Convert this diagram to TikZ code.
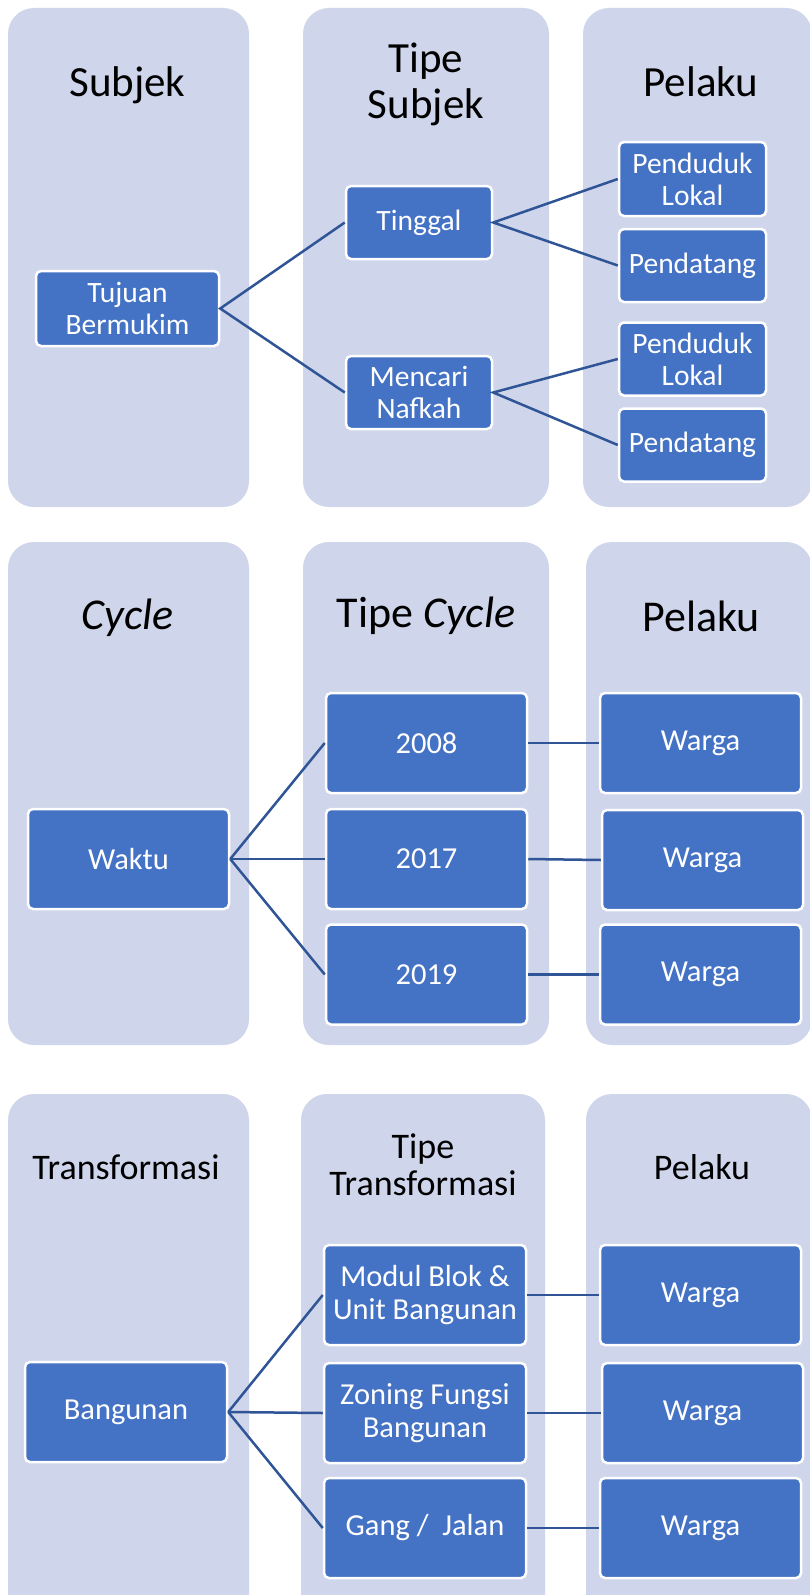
\documentclass[tikz,border=0pt]{standalone}
\usepackage{fontspec}
\setmainfont{Carlito}
\definecolor{colbg}{HTML}{CFD5EA}
\definecolor{nodeblue}{HTML}{4472C4}
\definecolor{linkblue}{HTML}{2F5597}
\begin{document}
\begin{tikzpicture}[x=1pt,y=-1pt,
  colbox/.style={fill=colbg,rounded corners=26pt},
  hdr/.style={align=center,inner sep=0pt,text=black},
  hdrA/.style={hdr,font=\fontsize{43}{46}\selectfont},
  hdrB/.style={hdr,font=\fontsize{44}{47}\selectfont},
  hdrC/.style={hdr,font=\fontsize{36}{37}\selectfont},
  blk/.style={rectangle,rounded corners=5pt,fill=nodeblue,draw=white,line width=2.5pt,
    text=white,align=center,inner sep=0pt},
  blkA/.style={blk,font=\fontsize{29.5}{32}\selectfont,minimum height=73pt},
  blkB/.style={blk,font=\fontsize{30.5}{33}\selectfont,minimum width=201pt,minimum height=100pt},
  link/.style={draw=linkblue,line width=2.5pt}
]
\useasboundingbox (0,0) rectangle (809,1595);
\fill[white] (0,0) rectangle (809,1595);
% ---------- section 1 ----------
\fill[colbox] (8,8) rectangle (249,507);
\fill[colbox] (303,8) rectangle (549,507);
\fill[colbox] (583,8) rectangle (812,507);
\node[hdrA] (h11) at (127.5,85.5) {Subjek};
\node[hdrA] (h12) at (426,84) {Tipe\\Subjek};
\node[hdrA] (h13) at (701,81.5) {Pelaku};
\node[blkA,minimum width=183pt,minimum height=75pt] (tuj) at (127.5,308.5) {Tujuan\\Bermukim};
\node[blkA,minimum width=146pt] (ting) at (419,222.5) {Tinggal};
\node[blkA,minimum width=146pt] (menc) at (419,392.5) {Mencari\\Nafkah};
\node[blkA,minimum width=147pt,minimum height=74pt] (pl1) at (692.5,179) {Penduduk\\Lokal};
\node[blkA,minimum width=147pt] (pd1) at (692.5,265.5) {Pendatang};
\node[blkA,minimum width=147pt] (pl2) at (692.5,359) {Penduduk\\Lokal};
\node[blkA,minimum width=147pt] (pd2) at (692.5,445) {Pendatang};
\draw[link] (ting.west) -- (tuj.east) -- (menc.west);
\draw[link] (pl1.west) -- (ting.east) -- (pd1.west);
\draw[link] (pl2.west) -- (menc.east) -- (pd2.west);
% ---------- section 2 ----------
\fill[colbox] (8,542) rectangle (249,1045);
\fill[colbox] (303,542) rectangle (549,1045);
\fill[colbox] (586,542) rectangle (812,1045);
\node[hdrB] (h21) at (128,618) {\itshape Cycle};
\node[hdrB] (h22) at (426,616) {Tipe \textit{Cycle}};
\node[hdrB] (h23) at (701,616) {Pelaku};
\node[blkB] (wak) at (128.5,859) {Waktu};
\node[blkB] (y08) at (426.5,743) {2008};
\node[blkB] (y17) at (426.5,859) {2017};
\node[blkB] (y19) at (426.5,974.5) {2019};
\node[blkB] (w21) at (700.5,743) {\raisebox{-2pt}{Warga}};
\node[blkB] (w22) at (702.5,860) {\raisebox{-2pt}{Warga}};
\node[blkB] (w23) at (700.5,974.5) {\raisebox{-2pt}{Warga}};
\draw[link] (wak.east) -- (y08.west);
\draw[link] (wak.east) -- (y17.west);
\draw[link] (wak.east) -- (y19.west);
\draw[link] (y08.east) -- (w21.west);
\draw[link] (y17.east) -- (w22.west);
\draw[link] (y19.east) -- (w23.west);
% ---------- section 3 ----------
\fill[colbox] (8,1094) rectangle (249,1625);
\fill[colbox] (301,1094) rectangle (545,1625);
\fill[colbox] (586,1094) rectangle (812,1625);
\node[hdrC] (h31) at (126,1167) {Transformasi};
\node[hdrC] (h32) at (423,1165) {Tipe\\Transformasi};
\node[hdrC] (h33) at (702,1167) {Pelaku};
\node[blkB,minimum width=202pt] (bang) at (126,1412) {Bangunan};
\node[blkB,minimum width=202pt] (mod) at (425,1295) {Modul Blok \&\\Unit Bangunan};
\node[blkB,minimum width=202pt] (zon) at (425,1413) {Zoning Fungsi\\Bangunan};
\node[blkB,minimum width=202pt] (gang) at (425,1528) {Gang /\ \ Jalan};
\node[blkB] (w31) at (700.5,1295) {\raisebox{-2pt}{Warga}};
\node[blkB] (w32) at (702.5,1413) {\raisebox{-2pt}{Warga}};
\node[blkB] (w33) at (700.5,1528) {\raisebox{-2pt}{Warga}};
\draw[link] (bang.east) -- (mod.west);
\draw[link] (bang.east) -- (zon.west);
\draw[link] (bang.east) -- (gang.west);
\draw[link] (mod.east) -- (w31.west);
\draw[link] (zon.east) -- (w32.west);
\draw[link] (gang.east) -- (w33.west);
\end{tikzpicture}
\end{document}
